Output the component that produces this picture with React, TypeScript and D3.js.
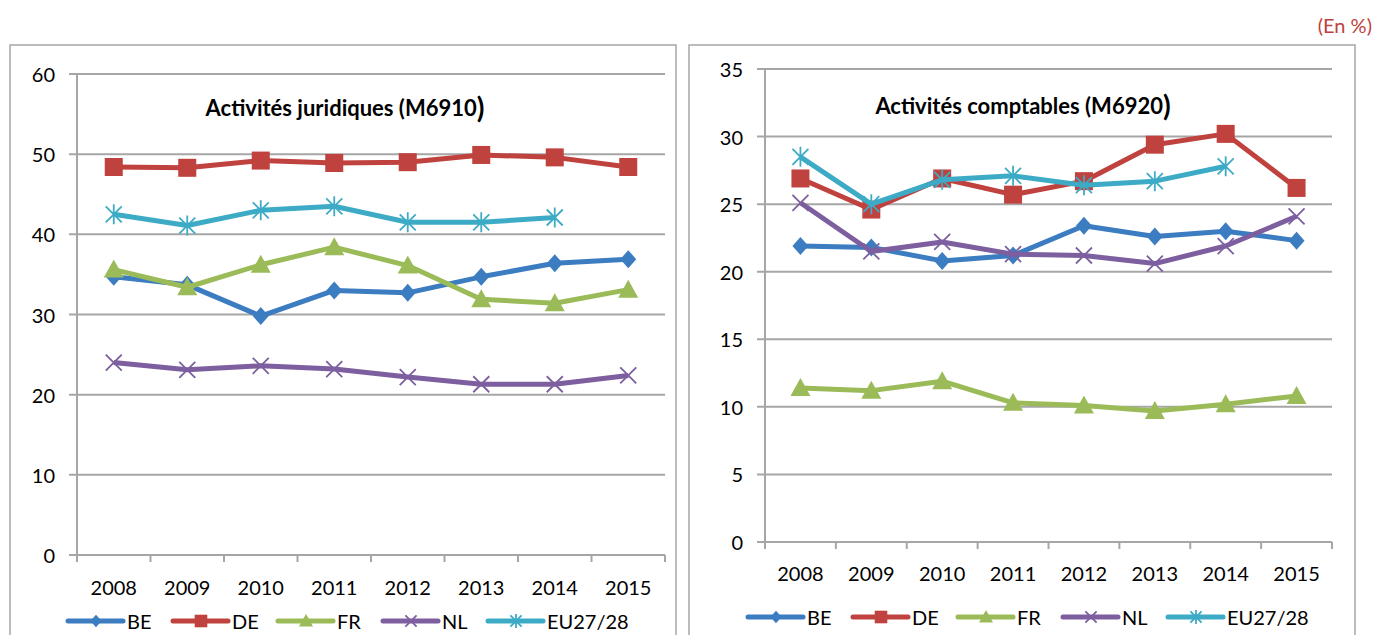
import React from 'react';
import * as d3 from 'd3';

const years = ['2008', '2009', '2010', '2011', '2012', '2013', '2014', '2015'];
const seriesNames = ['BE', 'DE', 'FR', 'NL', 'EU27/28'];

// Activités juridiques (M6910)
const jurBE = [34.7, 33.7, 29.8, 33.0, 32.7, 34.7, 36.4, 36.9];
const jurDE = [48.4, 48.3, 49.2, 48.9, 49.0, 49.9, 49.6, 48.4];
const jurFR = [35.6, 33.4, 36.2, 38.4, 36.1, 31.9, 31.4, 33.1];
const jurNL = [24.0, 23.1, 23.6, 23.2, 22.2, 21.3, 21.3, 22.4];
const jurEU = [42.5, 41.1, 43.0, 43.5, 41.5, 41.5, 42.1, null];
const jurTicks = [0, 10, 20, 30, 40, 50, 60];

// Activités comptables (M6920)
const comBE = [21.9, 21.8, 20.8, 21.2, 23.4, 22.6, 23.0, 22.3];
const comDE = [26.9, 24.6, 26.9, 25.7, 26.7, 29.4, 30.2, 26.2];
const comFR = [11.4, 11.2, 11.9, 10.3, 10.1, 9.7, 10.2, 10.8];
const comNL = [25.1, 21.5, 22.2, 21.3, 21.2, 20.6, 21.9, 24.1];
const comEU = [28.5, 25.0, 26.8, 27.1, 26.4, 26.7, 27.8, null];
const comTicks = [0, 5, 10, 15, 20, 25, 30, 35];

const colors = ['#3C7CC1', '#C0423E', '#9BBB59', '#7D5FA0', '#3DABC6'];
const markers = ['diamond', 'square', 'triangle', 'x', 'star'];
const FONT = "Lato, 'Open Sans', sans-serif";
const GRID = '#A6A6A6';

type Panel = {
  title: string;
  series: (number | null)[][];
  ticks: number[];
  box: [number, number, number];
  plotX: [number, number];
  plotY: [number, number];
  titlePos: [number, number];
  tickLabelY: number;
  legendY: number;
  legendX: number;
};

const panels: Panel[] = [
  {
    title: 'Activités juridiques (M6910',
    series: [jurBE, jurDE, jurFR, jurNL, jurEU],
    ticks: jurTicks,
    box: [10, 676, 45],
    plotX: [77, 665],
    plotY: [555, 74],
    titlePos: [345, 107],
    tickLabelY: 587,
    legendY: 621,
    legendX: 68,
  },
  {
    title: 'Activités comptables (M6920',
    series: [comBE, comDE, comFR, comNL, comEU],
    ticks: comTicks,
    box: [689, 1355, 45],
    plotX: [765, 1332],
    plotY: [542, 69],
    titlePos: [1023, 105],
    tickLabelY: 573,
    legendY: 617,
    legendX: 748,
  },
];

function Marker({ type, color, s = 1 }: { type: string; color: string; s?: number }) {
  if (type === 'diamond')
    return <path d={`M0,${-9 * s}L${8 * s},0L0,${9 * s}L${-8 * s},0Z`} fill={color} />;
  if (type === 'square')
    return <rect x={-9 * s} y={-9 * s} width={18 * s} height={18 * s} fill={color} />;
  if (type === 'triangle')
    return <path d={`M0,${-10 * s}L${10 * s},${8 * s}L${-10 * s},${8 * s}Z`} fill={color} />;
  if (type === 'x')
    return (
      <path
        d={`M${-8 * s},${-8 * s}L${8 * s},${8 * s}M${-8 * s},${8 * s}L${8 * s},${-8 * s}`}
        stroke={color}
        strokeWidth={1.8}
        fill="none"
      />
    );
  return (
    <path
      d={`M${-8 * s},${-8 * s}L${8 * s},${8 * s}M${-8 * s},${8 * s}L${8 * s},${-8 * s}M0,${-10 * s}L0,${10 * s}`}
      stroke={color}
      strokeWidth={1.8}
      fill="none"
    />
  );
}

function ChartPanel({ p }: { p: Panel }) {
  const x = d3.scaleBand<string>().domain(years).range(p.plotX).padding(0);
  const yMax = p.ticks[p.ticks.length - 1];
  const y = d3.scaleLinear().domain([0, yMax]).range(p.plotY);
  const line = d3
    .line<number | null>()
    .defined((d) => d != null)
    .x((_, i) => (x(years[i]) as number) + x.bandwidth() / 2)
    .y((d) => y(d as number));
  const bounds = years.map((yr) => x(yr) as number).concat([p.plotX[1]]);
  return (
    <g>
      <rect
        x={p.box[0]}
        y={p.box[2]}
        width={p.box[1] - p.box[0]}
        height={700}
        fill="#fff"
        stroke={GRID}
        strokeWidth={1.5}
      />
      {p.ticks.map((t) => (
        <g key={t}>
          <line x1={p.plotX[0] - 8} x2={p.plotX[1]} y1={y(t)} y2={y(t)} stroke={GRID} strokeWidth={2} />
          <text
            x={p.plotX[0] - 22}
            y={y(t)}
            textAnchor="end"
            dominantBaseline="central"
            fontFamily={FONT}
            fontSize={20}
            fill="#000"
          >
            {t}
          </text>
        </g>
      ))}
      <line x1={p.plotX[0]} x2={p.plotX[0]} y1={p.plotY[1]} y2={p.plotY[0]} stroke={GRID} strokeWidth={2} />
      {bounds.map((b, i) => (
        <line key={i} x1={b} x2={b} y1={p.plotY[0]} y2={p.plotY[0] + 7} stroke={GRID} strokeWidth={2} />
      ))}
      {years.map((yr) => (
        <text
          key={yr}
          x={(x(yr) as number) + x.bandwidth() / 2}
          y={p.tickLabelY}
          textAnchor="middle"
          dominantBaseline="central"
          fontFamily={FONT}
          fontSize={20}
          fill="#000"
        >
          {yr}
        </text>
      ))}
      <text
        x={p.titlePos[0]}
        y={p.titlePos[1]}
        textAnchor="middle"
        dominantBaseline="central"
        fontFamily={FONT}
        fontSize={22}
        fontWeight="bold"
        fill="#000"
      >
        {p.title}
        <tspan fontSize={28}>)</tspan>
      </text>
      {p.series.map((vals, si) => (
        <g key={si}>
          <path d={line(vals) || ''} fill="none" stroke={colors[si]} strokeWidth={5} strokeLinejoin="round" />
          {vals.map((v, i) =>
            v == null ? null : (
              <g key={i} transform={`translate(${(x(years[i]) as number) + x.bandwidth() / 2},${y(v)})`}>
                <Marker type={markers[si]} color={colors[si]} />
              </g>
            )
          )}
        </g>
      ))}
      {seriesNames.map((n, si) => {
        const lx = p.legendX + si * 105;
        return (
          <g key={n} transform={`translate(${lx},${p.legendY})`}>
            <line x1={0} x2={55} y1={0} y2={0} stroke={colors[si]} strokeWidth={5} strokeLinecap="round" />
            <g transform="translate(28,0)">
              <Marker type={markers[si]} color={colors[si]} s={0.7} />
            </g>
            <text x={59} y={0} dominantBaseline="central" fontFamily={FONT} fontSize={20} fill="#000">
              {n}
            </text>
          </g>
        );
      })}
    </g>
  );
}

export default function App() {
  return (
    <svg
      width={1376}
      height={635}
      style={{ position: 'absolute', left: 0, top: 0, display: 'block', background: '#fff' }}
    >
      <rect x={0} y={0} width={1376} height={635} fill="#fff" />
      {panels.map((p, i) => (
        <ChartPanel key={i} p={p} />
      ))}
      <text
        x={1372}
        y={25}
        textAnchor="end"
        dominantBaseline="central"
        fontFamily={FONT}
        fontSize={20}
        fill="#C0423E"
      >
        (En %)
      </text>
    </svg>
  );
}
